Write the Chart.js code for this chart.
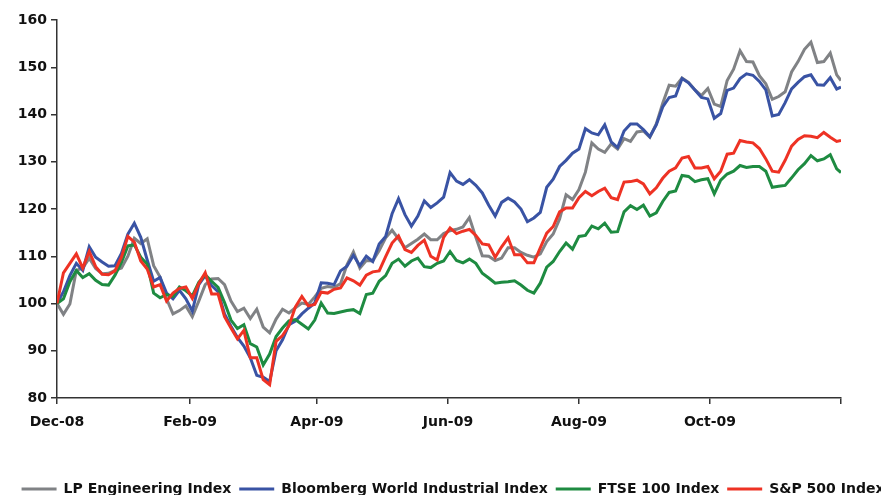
<!DOCTYPE html>
<html>
<head>
<meta charset="utf-8">
<script src="https://cdn.jsdelivr.net/npm/chart.js@4/dist/chart.umd.min.js"></script>
<style>
  html, body { margin: 0; padding: 0; background: #fff; overflow: hidden; }
  #wrap { width: 906px; height: 506px; }
</style>
</head>
<body>
<div id="wrap"><canvas id="c" width="906" height="506"></canvas></div>
<script>
// Days since 1 Dec 2008
const days = [0,3,6,9,12,15,18,21,24,27,30,33,36,39,42,45,48,51,54,57,60,63,66,69,72,75,78,81,84,87,90,93,96,99,102,105,108,111,114,117,120,123,126,129,132,135,138,141,144,147,150,153,156,159,162,165,168,171,174,177,180,183,186,189,192,195,198,201,204,207,210,213,216,219,222,225,228,231,234,237,240,243,246,249,252,255,258,261,264,267,270,273,276,279,282,285,288,291,294,297,300,303,306,309,312,315,318,321,324,327,330,333,336,339,342,345,348,351,354,357,360,363,365];

const seriesNames = ["LP Engineering Index", "Bloomberg World Industrial Index", "FTSE 100 Index", "S&P 500 Index"];

const lpEngineering = [100,97.7,99.9,107,107.5,109.6,107.4,106.3,106.4,107,107.5,110,113.8,112.7,113.7,108,105.6,101,97.8,98.5,99.5,97.2,100.5,104,105.2,105.3,104,100.5,98.3,99,96.8,98.8,95,93.8,96.7,98.8,98,99.1,100.1,99.8,101.4,103.2,103.6,103.4,104.2,108.2,110.9,107.5,109.1,109,111.2,113.9,115.5,113.7,111.8,112.7,113.6,114.7,113.5,113.5,114.8,115.4,115.7,116.2,118.2,114,110.1,110,109.1,109.6,111.8,111.8,110.8,110.2,109.8,110.5,113.1,114.7,117.9,123,122,124.1,127.8,134,132.7,132,133.8,132.7,134.9,134.3,136.3,136.5,135.2,138,142.4,146.2,146,147.7,146.8,145.2,144,145.5,142.2,141.7,147.2,149.6,153.5,151.2,151.1,148.2,146.5,143.2,143.8,144.8,149,151.2,153.8,155.3,151,151.2,153,148.4,147.2];

const bloombergIndustrial = [100,102.5,105.9,108.5,107,112,109.8,108.8,107.9,108,110.6,114.7,117,114,109.2,104.7,105.5,102.2,101,102.8,101,98.4,104,105.9,103.8,102.5,97.8,95.2,92.8,91,88.5,84.8,84.4,83.5,90,92.3,95.5,96.3,97.8,99,100.1,104.4,104.3,104,106.9,107.9,110.2,108,110,108.9,112.6,114.2,119,122.2,118.8,116.4,118.5,121.7,120.3,121.3,122.5,127.7,125.9,125.2,126.2,125,123.4,120.8,118.5,121.4,122.3,121.5,120,117.3,118.1,119.3,124.6,126.3,129,130.3,131.8,132.7,137,136.1,135.7,137.8,134.2,133,136.5,138,138,136.8,135.3,137.8,141.6,143.6,143.9,147.6,146.7,145.2,143.6,143.3,139.2,140.2,145.1,145.6,147.6,148.6,148.3,147,145.2,139.7,140,142.5,145.4,146.8,148,148.4,146.3,146.2,147.8,145.4,145.8];

const ftse100 = [100,101,104.6,107,105.5,106.3,104.9,104,103.9,106,108.7,112.2,112.4,109.8,108.3,102.2,101.2,101.9,101.5,103.5,102.7,101.6,104.5,106.1,104.7,103.4,100.2,96.5,94.7,95.5,91.5,90.8,87,89.3,93,94.8,96.3,96.6,95.6,94.6,96.5,100.1,98,97.9,98.2,98.5,98.7,97.9,101.9,102.2,104.7,105.9,108.5,109.4,107.9,109,109.6,107.8,107.6,108.5,109,111,109.1,108.6,109.4,108.5,106.4,105.4,104.3,104.5,104.6,104.8,103.9,102.8,102.2,104.3,107.7,108.9,111,112.8,111.5,114.2,114.4,116.4,115.8,117,115.1,115.2,119.4,120.7,119.9,120.8,118.5,119.2,121.6,123.5,123.8,127.1,126.9,125.8,126.2,126.4,123.2,126.1,127.4,128,129.2,128.8,129,129,128,124.6,124.8,125,126.6,128.3,129.6,131.3,130.2,130.6,131.5,128.5,127.7];

const sp500 = [100,106.5,108.5,110.5,107.5,111,107.8,106.2,106.1,106.9,109.8,114.2,113,109,107.3,103.5,104,100.5,102.2,103.2,103.5,101.1,104.2,106.5,102,102,97.2,94.8,92.5,94.3,88.5,88.5,83.9,82.8,92,93.2,95.3,99.3,101.5,99.5,99.8,102.4,102.2,103,103.3,105.4,104.8,103.9,106,106.7,106.9,109.9,112.8,114.3,111.4,110.8,112.3,113.4,110,109.2,114,116,114.8,115.3,115.7,114.4,112.6,112.4,109.8,112,113.9,110.3,110.3,108.6,108.6,111.8,114.9,116.3,119.4,120.2,120.2,122.4,123.7,122.8,123.7,124.4,122.4,122,125.7,125.8,126.1,125.3,123.2,124.5,126.5,128,128.7,130.8,131.1,128.7,128.7,129,126.4,128,131.6,131.8,134.5,134.2,134,132.8,130.6,128,127.8,130.3,133.3,134.7,135.5,135.4,135.1,136.2,135.2,134.3,134.5];

// x-axis tick positions (days since 1 Dec 2008) and their labels
const tickDays = [0, 62, 121, 182, 243, 304, 365];
const tickLabels = ["Dec-08", "Feb-09", "Apr-09", "Jun-09", "Aug-09", "Oct-09", ""];

const yMin = 80, yMax = 160, yStep = 10;

const colors = ["#808285", "#3953a4", "#1e8b41", "#ee3224"];
const valueSets = [lpEngineering, bloombergIndustrial, ftse100, sp500];
const drawOrder = [4, 3, 2, 1];

Chart.defaults.font.family = "'DejaVu Sans', sans-serif";
Chart.defaults.font.weight = "bold";
Chart.defaults.font.size = 14;
Chart.defaults.color = "#111";

const datasets = valueSets.map((vals, i) => ({
  label: seriesNames[i],
  data: vals.map((v, j) => ({ x: days[j], y: v })),
  borderColor: colors[i],
  backgroundColor: colors[i],
  borderWidth: 3,
  pointRadius: 0,
  tension: 0,
  order: drawOrder[i]
}));

const axisColor = "#333";

new Chart(document.getElementById("c"), {
  type: "line",
  data: { datasets },
  options: {
    responsive: false,
    animation: false,
    layout: { padding: { top: 20, right: 0, left: 0, bottom: 0 } },
    plugins: {
      tooltip: { enabled: false },
      legend: {
        position: "bottom",
        labels: {
          boxWidth: 35,
          boxHeight: 3,
          padding: 8,
          color: "#111",
          font: { size: 14, weight: "bold" },
          generateLabels(chart) {
            const items = Chart.defaults.plugins.legend.labels.generateLabels(chart);
            items.forEach(it => { it.lineWidth = 0; it.fillStyle = colors[it.datasetIndex]; });
            return items.sort((a, b) => a.datasetIndex - b.datasetIndex);
          }
        }
      }
    },
    scales: {
      x: {
        type: "linear",
        min: tickDays[0],
        max: tickDays[tickDays.length - 1],
        afterBuildTicks(scale) { scale.ticks = tickDays.map(v => ({ value: v })); },
        afterFit(scale) { scale.height = 76; },
        ticks: {
          autoSkip: false,
          maxRotation: 0,
          padding: 10,
          color: "#111",
          callback(value) { const i = tickDays.indexOf(value); return i >= 0 ? tickLabels[i] : ""; }
        },
        grid: { drawOnChartArea: false, drawTicks: true, tickLength: 6, color: axisColor, lineWidth: 1.5 },
        border: { display: true, color: axisColor, width: 1.5 }
      },
      y: {
        min: yMin,
        max: yMax,
        afterFit(scale) { scale.width = 57; },
        ticks: { stepSize: yStep, padding: 4, color: "#111" },
        grid: { drawOnChartArea: false, drawTicks: true, tickLength: 6, color: axisColor, lineWidth: 1.5 },
        border: { display: true, color: axisColor, width: 1.5 }
      },
      spacer: {
        type: "linear",
        position: "right",
        display: true,
        afterFit(scale) { scale.width = 65; },
        ticks: { display: false },
        grid: { display: false, drawTicks: false },
        border: { display: false }
      }
    }
  }
});
</script>
</body>
</html>
